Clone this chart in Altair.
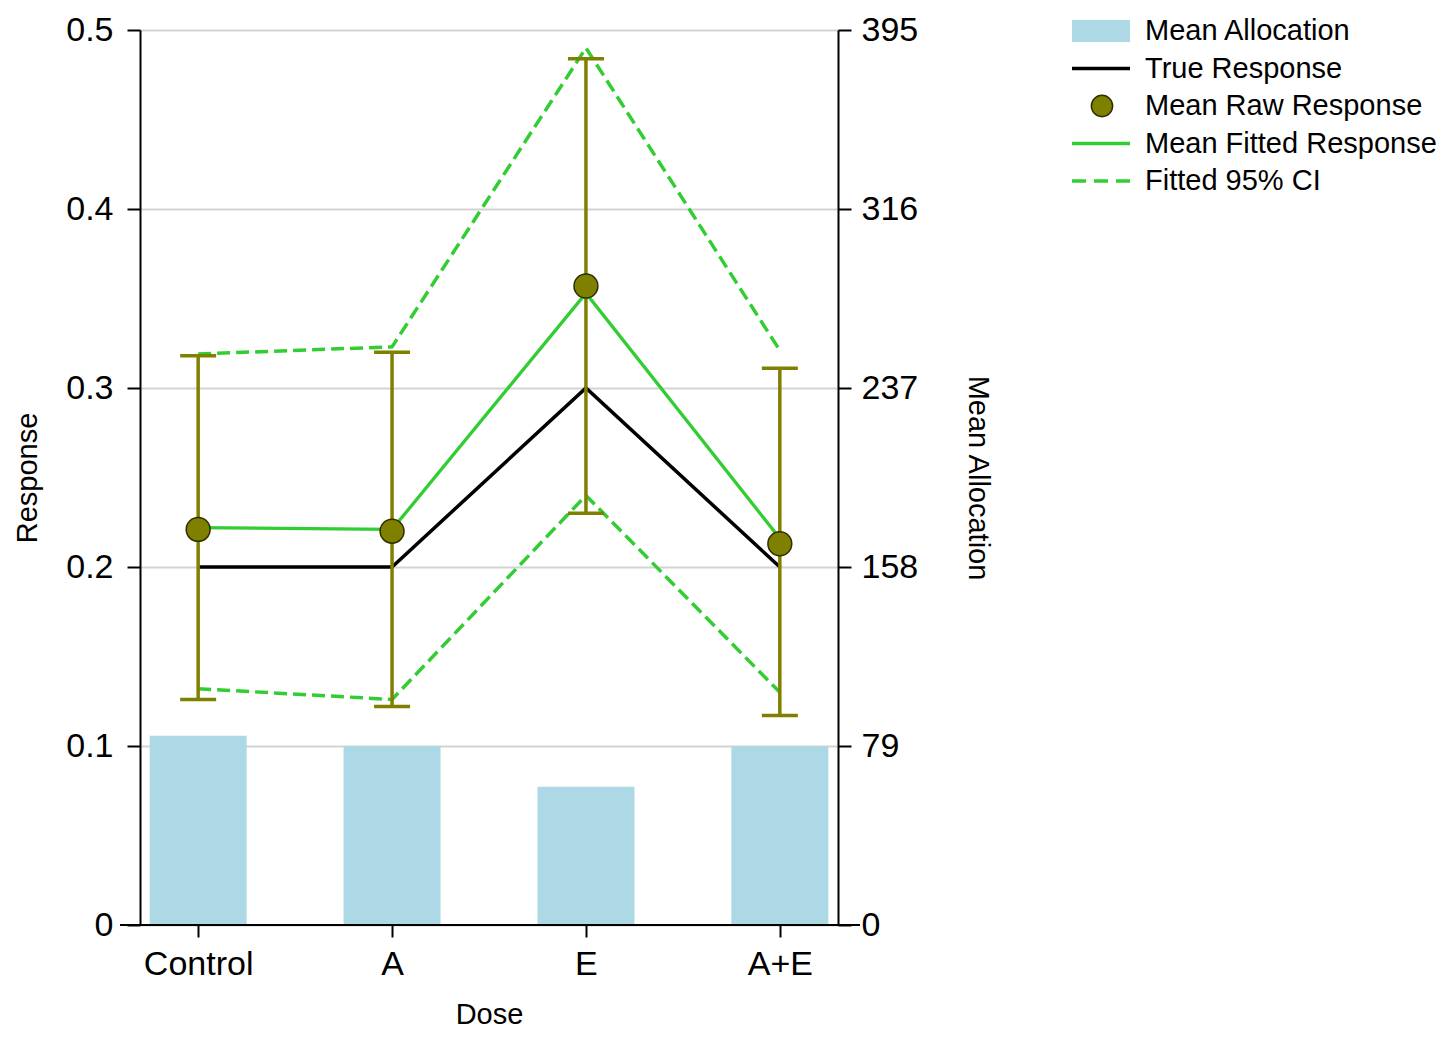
import altair as alt
import pandas as pd

doses = ["Control", "A", "E", "A+E"]
mean_allocation = [83.5, 79, 61, 79]
true_response = [0.2, 0.2, 0.3, 0.2]
raw_mean = [0.221, 0.220, 0.357, 0.213]
raw_lo = [0.126, 0.122, 0.230, 0.117]
raw_hi = [0.318, 0.320, 0.484, 0.311]
fitted_mean = [0.222, 0.221, 0.353, 0.216]
fitted_lo = [0.132, 0.126, 0.240, 0.130]
fitted_hi = [0.319, 0.323, 0.490, 0.321]

resp_ticks = [0, 0.1, 0.2, 0.3, 0.4, 0.5]
alloc_ticks = [0, 79, 158, 237, 316, 395]
legend_labels = ["Mean Allocation", "True Response", "Mean Raw Response",
                 "Mean Fitted Response", "Fitted 95% CI"]

FONT = "Liberation Sans"
W, H = 698, 895
OLIVE = "#808000"
GREEN = "#32CD32"
BLUE = "#ADD8E6"

df = pd.DataFrame({
    "dose": doses, "alloc": mean_allocation, "true": true_response,
    "raw": raw_mean, "raw_lo": raw_lo, "raw_hi": raw_hi,
    "fit": fitted_mean, "fit_lo": fitted_lo, "fit_hi": fitted_hi,
})

base = alt.Chart(df)
xenc = alt.X("dose:N", sort=doses, scale=alt.Scale(type="point", padding=0.3),
             axis=alt.Axis(title="Dose", labelAngle=0, domain=False, tickSize=12,
                           labelPadding=10, titlePadding=19, grid=False))

resp_scale = alt.Scale(domain=[0, 0.5], nice=False)
resp_axis = alt.Axis(orient="left", values=resp_ticks, format="~g", grid=True,
                     gridColor="#d3d3d3", gridWidth=2, title="Response",
                     labelPadding=14, titlePadding=23)


def ry(field):
    return alt.Y(f"{field}:Q", scale=resp_scale, axis=resp_axis)


bars = base.mark_bar(size=97, color=BLUE).encode(
    x=xenc,
    y=alt.Y("alloc:Q", scale=alt.Scale(domain=[0, 395], nice=False),
            axis=alt.Axis(orient="right", values=alloc_ticks, grid=False,
                          title="Mean Allocation", labelPadding=10, titlePadding=45)),
)

dash = [13, 6]
ci_hi = base.mark_line(color=GREEN, strokeWidth=3.5, strokeDash=dash).encode(x=xenc, y=ry("fit_hi"))
ci_lo = base.mark_line(color=GREEN, strokeWidth=3.5, strokeDash=dash).encode(x=xenc, y=ry("fit_lo"))
true_line = base.mark_line(color="black", strokeWidth=3.5).encode(x=xenc, y=ry("true"))
fit_line = base.mark_line(color=GREEN, strokeWidth=3.3).encode(x=xenc, y=ry("fit"))
err = base.mark_rule(color=OLIVE, strokeWidth=3.5).encode(x=xenc, y=ry("raw_lo"), y2="raw_hi:Q")
cap_lo = base.mark_tick(color=OLIVE, size=36, thickness=3.5, opacity=1).encode(x=xenc, y=ry("raw_lo"))
cap_hi = base.mark_tick(color=OLIVE, size=36, thickness=3.5, opacity=1).encode(x=xenc, y=ry("raw_hi"))
pts = base.mark_circle(size=570, color=OLIVE, opacity=1, stroke="#2e2e00",
                       strokeWidth=1.5).encode(x=xenc, y=ry("raw"))

resp = alt.layer(ci_hi, ci_lo, true_line, fit_line, err, cap_lo, cap_hi, pts)

xline = alt.Chart(df).mark_rule(color="black", strokeWidth=2).encode(
    x=alt.value(-20), x2=alt.value(W + 22), y=alt.value(H))

main = alt.layer(bars, resp, xline).resolve_scale(y="independent").properties(
    width=W, height=H, view=alt.ViewBackground(stroke="transparent", strokeWidth=0))

# legend panel
leg = pd.DataFrame({"label": legend_labels, "row": list(range(len(legend_labels)))})
lb = alt.Chart(leg)
ly = alt.Y("row:Q", scale=alt.Scale(domain=[0, 4], range=[1, 151]), axis=None)
leg_rect = lb.transform_filter("datum.row == 0").mark_rule(
    color=BLUE, strokeWidth=22, strokeCap="butt").encode(x=alt.value(0), x2=alt.value(58), y=ly)
leg_true = lb.transform_filter("datum.row == 1").mark_rule(
    color="black", strokeWidth=3.5).encode(x=alt.value(0), x2=alt.value(58), y=ly)
leg_pt = lb.transform_filter("datum.row == 2").mark_circle(
    size=452, color=OLIVE, opacity=1, stroke="#2e2e00", strokeWidth=1.5).encode(x=alt.value(30), y=ly)
leg_fit = lb.transform_filter("datum.row == 3").mark_rule(
    color=GREEN, strokeWidth=3.3).encode(x=alt.value(0), x2=alt.value(58), y=ly)
leg_ci = lb.transform_filter("datum.row == 4").mark_rule(
    color=GREEN, strokeWidth=3.5, strokeDash=[14, 8]).encode(x=alt.value(0), x2=alt.value(58), y=ly)
leg_txt = lb.mark_text(align="left", baseline="middle", fontSize=29, font=FONT,
                       color="black").encode(x=alt.value(73), y=ly, text="label:N")
legend = alt.layer(leg_rect, leg_true, leg_pt, leg_fit, leg_ci, leg_txt).properties(
    width=280, height=H, view=alt.ViewBackground(stroke="transparent", strokeWidth=0))

chart = alt.hconcat(main, legend, spacing=69).configure_view(strokeWidth=0, stroke="transparent").configure(
    font=FONT, padding={"top": 5, "left": 5, "right": 0, "bottom": 0}
).configure_axis(
    domainColor="black", domainWidth=2, tickColor="black", tickWidth=2, tickSize=13,
    labelFont=FONT, labelFontSize=34, labelColor="black",
    titleFont=FONT, titleFontSize=29, titleFontWeight="normal", titleColor="black",
)

chart.save("out.html", embed_options={"renderer": "svg", "actions": False})
